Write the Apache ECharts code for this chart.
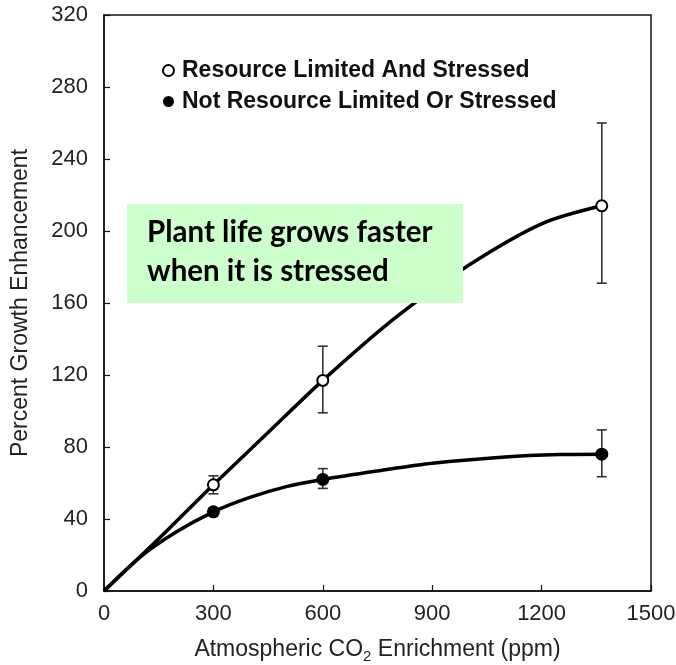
<!DOCTYPE html>
<html>
<head>
<meta charset="utf-8">
<script src="https://cdn.jsdelivr.net/npm/echarts@6/dist/echarts.min.js"></script>
<style>
  html, body { margin: 0; padding: 0; background: #fff; }
  #main { width: 676px; height: 665px; }
</style>
</head>
<body>
<div id="main"></div>
<script>
// 数据
const xTicks = [0, 300, 600, 900, 1200, 1500];
const yTicks = [0, 40, 80, 120, 160, 200, 240, 280, 320];

// 空心点：资源受限且受胁迫
const stressedPts = [[300, 59], [600, 117], [1365, 214]];
const stressedErr = [[300, 54, 64], [600, 99, 136], [1365, 171, 260]];
const stressedCurve = [[0, 0], [150, 29], [300, 59], [450, 88], [600, 117], [800, 152], [1000, 181], [1200, 204], [1365, 214]];

// 实心点：非资源受限
const normalPts = [[300, 44], [600, 62], [1365, 76]];
const normalErr = [[600, 57, 68], [1365, 63.5, 89.5]];
const normalCurve = [[0, 0], [100, 19], [200, 33], [300, 44], [400, 52], [500, 58], [600, 62], [760, 67], [900, 71], [1100, 74.5], [1250, 75.8], [1365, 76]];

const nameOpen = 'Resource Limited And Stressed';
const nameFilled = 'Not Resource Limited Or Stressed';

// 误差线
function errBar(params, api) {
  const x = api.value(0);
  const lo = api.coord([x, api.value(1)]);
  const hi = api.coord([x, api.value(2)]);
  const w = 5;
  const style = { stroke: '#333', lineWidth: 1.6 };
  return {
    type: 'group',
    children: [
      { type: 'line', shape: { x1: lo[0], y1: lo[1], x2: hi[0], y2: hi[1] }, style: style },
      { type: 'line', shape: { x1: lo[0] - w, y1: lo[1], x2: lo[0] + w, y2: lo[1] }, style: style },
      { type: 'line', shape: { x1: hi[0] - w, y1: hi[1], x2: hi[0] + w, y2: hi[1] }, style: style }
    ]
  };
}

const font = 'Arial, "Liberation Sans", sans-serif';

var myChart = echarts.init(document.getElementById('main'));
myChart.setOption({
  animation: false,
  grid: {
    left: 104, right: 25, top: 15, bottom: 74,
    outerBoundsMode: 'none',
    show: true, borderColor: '#111', borderWidth: 1.5
  },
  legend: {
    orient: 'vertical',
    left: 157, top: 54,
    itemWidth: 11, itemHeight: 11, itemGap: 8,
    icon: 'circle',
    textStyle: { fontFamily: font, fontWeight: 'bold', fontSize: 23, color: '#111', lineHeight: 23, padding: [0, 0, 0, 3] },
    data: [
      { name: nameOpen, itemStyle: { color: '#fff', borderColor: '#000', borderWidth: 2 } },
      { name: nameFilled, itemStyle: { color: '#000' } }
    ]
  },
  xAxis: {
    type: 'value',
    min: 0, max: 1500, interval: 300,
    name: 'Atmospheric CO{sub|2} Enrichment (ppm)',
    nameLocation: 'middle',
    nameGap: 45,
    nameTextStyle: {
      fontFamily: font, fontSize: 23, color: '#222', lineHeight: 28,
      rich: { sub: { fontFamily: font, fontSize: 15, lineHeight: 15, padding: [13, 0, 0, 0], color: '#222' } }
    },
    splitLine: { show: false },
    axisLine: { lineStyle: { color: '#111', width: 1.5 } },
    axisTick: { inside: true, length: 6, lineStyle: { color: '#111', width: 1.2 } },
    axisLabel: {
      fontFamily: font, fontSize: 22, color: '#222', margin: 12,
      customValues: xTicks,
      formatter: function (v) { return String(v); }
    }
  },
  yAxis: {
    type: 'value',
    min: 0, max: 320, interval: 40,
    name: 'Percent Growth Enhancement',
    nameLocation: 'middle',
    nameGap: 72,
    nameTextStyle: { fontFamily: font, fontSize: 23, color: '#222' },
    splitLine: { show: false },
    axisLine: { lineStyle: { color: '#111', width: 1.5 } },
    axisTick: { inside: true, length: 6, lineStyle: { color: '#111', width: 1.2 } },
    axisLabel: {
      fontFamily: font, fontSize: 22, color: '#222', margin: 16,
      customValues: yTicks,
      formatter: function (v) { return String(v); }
    }
  },
  graphic: [
    {
      type: 'rect', z: 100,
      shape: { x: 127, y: 204, width: 336, height: 99 },
      style: { fill: '#ccffcc' }
    },
    {
      type: 'text', z: 101,
      x: 147, y: 213,
      style: {
        text: 'Plant life grows faster\nwhen it is stressed',
        font: 'bold 29.5px Lato, "Open Sans", sans-serif',
        lineHeight: 39,
        fill: '#000'
      }
    }
  ],
  series: [
    {
      type: 'line', smooth: 0.3, symbol: 'none', silent: true,
      data: stressedCurve,
      lineStyle: { color: '#000', width: 3.5 }, z: 2
    },
    {
      type: 'line', smooth: 0.3, symbol: 'none', silent: true,
      data: normalCurve,
      lineStyle: { color: '#000', width: 3.5 }, z: 2
    },
    { type: 'custom', renderItem: errBar, data: stressedErr, z: 3 },
    { type: 'custom', renderItem: errBar, data: normalErr, z: 3 },
    {
      name: nameOpen, type: 'scatter', symbol: 'circle', symbolSize: 11,
      data: stressedPts, z: 5,
      itemStyle: { color: '#fff', borderColor: '#000', borderWidth: 2, opacity: 1 }
    },
    {
      name: nameFilled, type: 'scatter', symbol: 'circle', symbolSize: 13,
      data: normalPts, z: 5,
      itemStyle: { color: '#000', opacity: 1 }
    }
  ]
});
</script>
</body>
</html>
